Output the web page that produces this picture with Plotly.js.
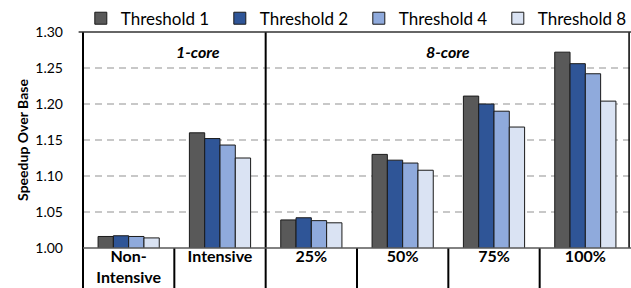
<!DOCTYPE html>
<html><head><meta charset="utf-8">
<script src="https://cdn.plot.ly/plotly-3.0.1.min.js"></script>
<style>html,body{margin:0;padding:0;background:#fff}#c{width:631px;height:288px}</style>
</head><body><div id="c"></div>
<script>
const categories = ["Non-<br>Intensive", "Intensive", "25%", "50%", "75%", "100%"];
const seriesNames = ["Threshold 1", "Threshold 2", "Threshold 4", "Threshold 8"];
const threshold1 = [1.016, 1.160, 1.039, 1.130, 1.211, 1.272];
const threshold2 = [1.017, 1.152, 1.042, 1.122, 1.200, 1.256];
const threshold4 = [1.016, 1.143, 1.038, 1.118, 1.190, 1.242];
const threshold8 = [1.014, 1.125, 1.035, 1.108, 1.168, 1.204];
const yTicks = [1.00, 1.05, 1.10, 1.15, 1.20, 1.25, 1.30];
const panelLabels = ["1-core", "8-core"];

const colors = ["#595959", "#2F5597", "#8FAADC", "#DAE3F3"];
const values = [threshold1, threshold2, threshold4, threshold8];
const FONT = "Lato, 'Open Sans', sans-serif";

const traces = values.map((v, i) => ({
  type: "bar", name: seriesNames[i], x: categories, y: v,
  marker: {color: colors[i], line: {color: "#1a1a1a", width: 1}},
  hoverinfo: "skip"
}));

const sep = -40/216;
const shapes = [];
for (let k = 1; k < 6; k++) {
  const f = k/6;
  const full = (k === 2);
  shapes.push({type: "line", xref: "x domain", yref: "y domain", x0: f, x1: f,
    y0: sep, y1: full ? 1 : 0, line: {color: "#000", width: 2}});
}
shapes.push({type: "line", xref: "x domain", yref: "y domain", x0: 0, x1: 0, y0: sep, y1: 1, line: {color: "#000", width: 2}});
shapes.push({type: "line", xref: "x domain", yref: "y domain", x0: 0.9965, x1: 0.9965, y0: 0, y1: 1, line: {color: "#000", width: 1.5}});
shapes.push({type: "line", xref: "x domain", yref: "y domain", x0: -0.008, x1: 1, y0: 1, y1: 1, line: {color: "#333", width: 1.5}});
shapes.push({type: "line", xref: "x domain", yref: "y domain", x0: 0, x1: 1, y0: 0, y1: 0, line: {color: "#595959", width: 1.5}});

const layout = {
  width: 631, height: 288,
  margin: {l: 83, r: 0, t: 32, b: 40, pad: 0, autoexpand: false},
  paper_bgcolor: "#fff", plot_bgcolor: "#fff",
  font: {family: FONT, color: "#000"},
  barmode: "group", bargap: 0.33, bargroupgap: 0,
  showlegend: true,
  legend: {orientation: "h", x: -0.004, xanchor: "left", y: 1.145, yanchor: "top",
    font: {size: 17, family: FONT, color: "#000"}, entrywidth: 94, entrywidthmode: "pixels",
    itemwidth: 30, bgcolor: "rgba(0,0,0,0)", tracegroupgap: 0},
  xaxis: {type: "category", range: [-0.5, 5.5], showgrid: false, showline: false, zeroline: false,
    ticks: "", ticklabelstandoff: -3, tickfont: {size: 16, family: FONT, color: "#000", weight: "bold"}, fixedrange: true},
  yaxis: {range: [1.0, 1.30], tickvals: yTicks, ticktext: yTicks.map(v => v.toFixed(2)),
    showgrid: true, gridcolor: "#C8C8C8", griddash: "7px,5px", gridwidth: 1.2,
    zeroline: false, showline: false, ticks: "", ticklabelstandoff: 19,
    tickfont: {size: 14, family: FONT, color: "#000"},
    title: {text: "Speedup Over Base", font: {size: 14, family: FONT, color: "#000", weight: "bold"}, standoff: 3}},
  shapes: shapes,
  annotations: [
    {text: "<b><i>" + panelLabels[0] + "</i></b>", xref: "x domain", yref: "y domain", x: 1/6, y: 0.965, yanchor: "top", showarrow: false, font: {size: 16, family: FONT}},
    {text: "<b><i>" + panelLabels[1] + "</i></b>", xref: "x domain", yref: "y domain", x: 4/6, y: 0.965, yanchor: "top", showarrow: false, font: {size: 16, family: FONT}}
  ]
};
Plotly.newPlot("c", traces, layout, {displayModeBar: false, staticPlot: true});
</script></body></html>
